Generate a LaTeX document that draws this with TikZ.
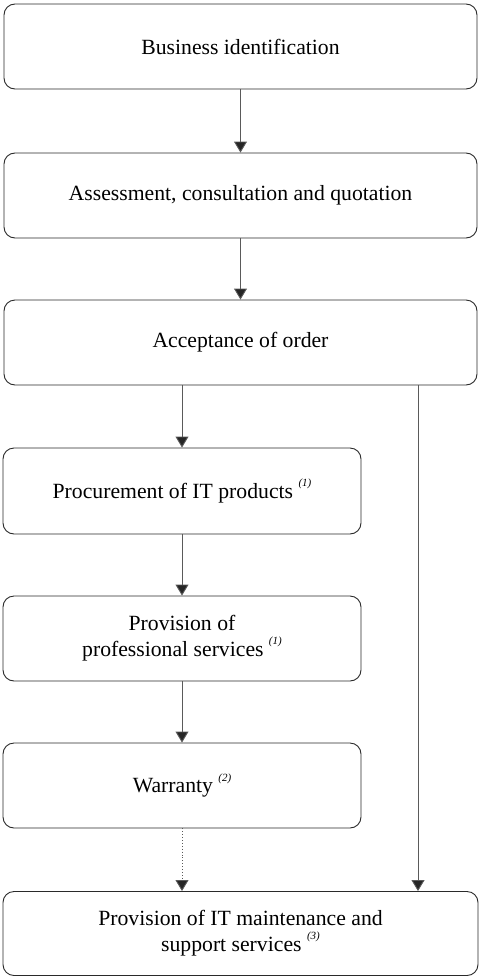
\documentclass[tikz,border=0pt]{standalone}
\usepackage{fontspec}
\setmainfont{Liberation Serif}
\usetikzlibrary{arrows.meta}
\definecolor{boxline}{HTML}{2A2A2A}
\definecolor{arrline}{HTML}{5A5A5A}
\newcommand{\fnmark}[1]{\ \raisebox{0.55em}{\fontsize{11}{11}\selectfont\itshape(#1)}}
\tikzset{
  stepbox/.style={draw=boxline, line width=0.9pt, rounded corners=11pt, fill=white,
    inner sep=0pt, align=center, font=\fontsize{21.7}{26}\selectfont},
  flowarrow/.style={draw=arrline, line width=0.9pt, -{Triangle[width=13pt,length=11pt,fill=black!85]}},
  dotarrow/.style={draw=arrline, line width=0.9pt, dotted, -{Triangle[width=13pt,length=11pt,fill=black!85]}}
}
\begin{document}
\begin{tikzpicture}[x=1pt,y=-1pt]
\useasboundingbox (0,0) rectangle (480,977);
\node[stepbox, minimum width=473pt, minimum height=85pt] (b1) at (240.5,46.5) {Business identification};
\node[stepbox, minimum width=473pt, minimum height=85pt] (b2) at (240.5,195.5) {Assessment, consultation and quotation};
\node[stepbox, minimum width=473pt, minimum height=85pt] (b3) at (240.5,342.5) {Acceptance of order};
\node[stepbox, minimum width=358pt, minimum height=86pt] (b4) at (182,491) {Procurement of IT products\fnmark{1}};
\node[stepbox, minimum width=358pt, minimum height=85pt] (b5) at (182,638.5) {Provision of\\professional services\fnmark{1}};
\node[stepbox, minimum width=358pt, minimum height=85pt] (b6) at (182,785.5) {Warranty\fnmark{2}};
\node[stepbox, minimum width=475pt, minimum height=84pt] (b7) at (240.5,933.5) {Provision of IT maintenance and\\support services\fnmark{3}};
\draw[flowarrow] (b1.south) -- (b2.north);
\draw[flowarrow] (b2.south) -- (b3.north);
\draw[flowarrow] (b3.south -| b4.north) -- (b4.north);
\draw[flowarrow] (b4.south) -- (b5.north);
\draw[flowarrow] (b5.south) -- (b6.north);
\draw[dotarrow] (b6.south) -- (b7.north -| b6.south);
\draw[flowarrow] ([xshift=177.5pt]b3.south) -- ([xshift=177.5pt]b7.north);
\end{tikzpicture}
\end{document}
